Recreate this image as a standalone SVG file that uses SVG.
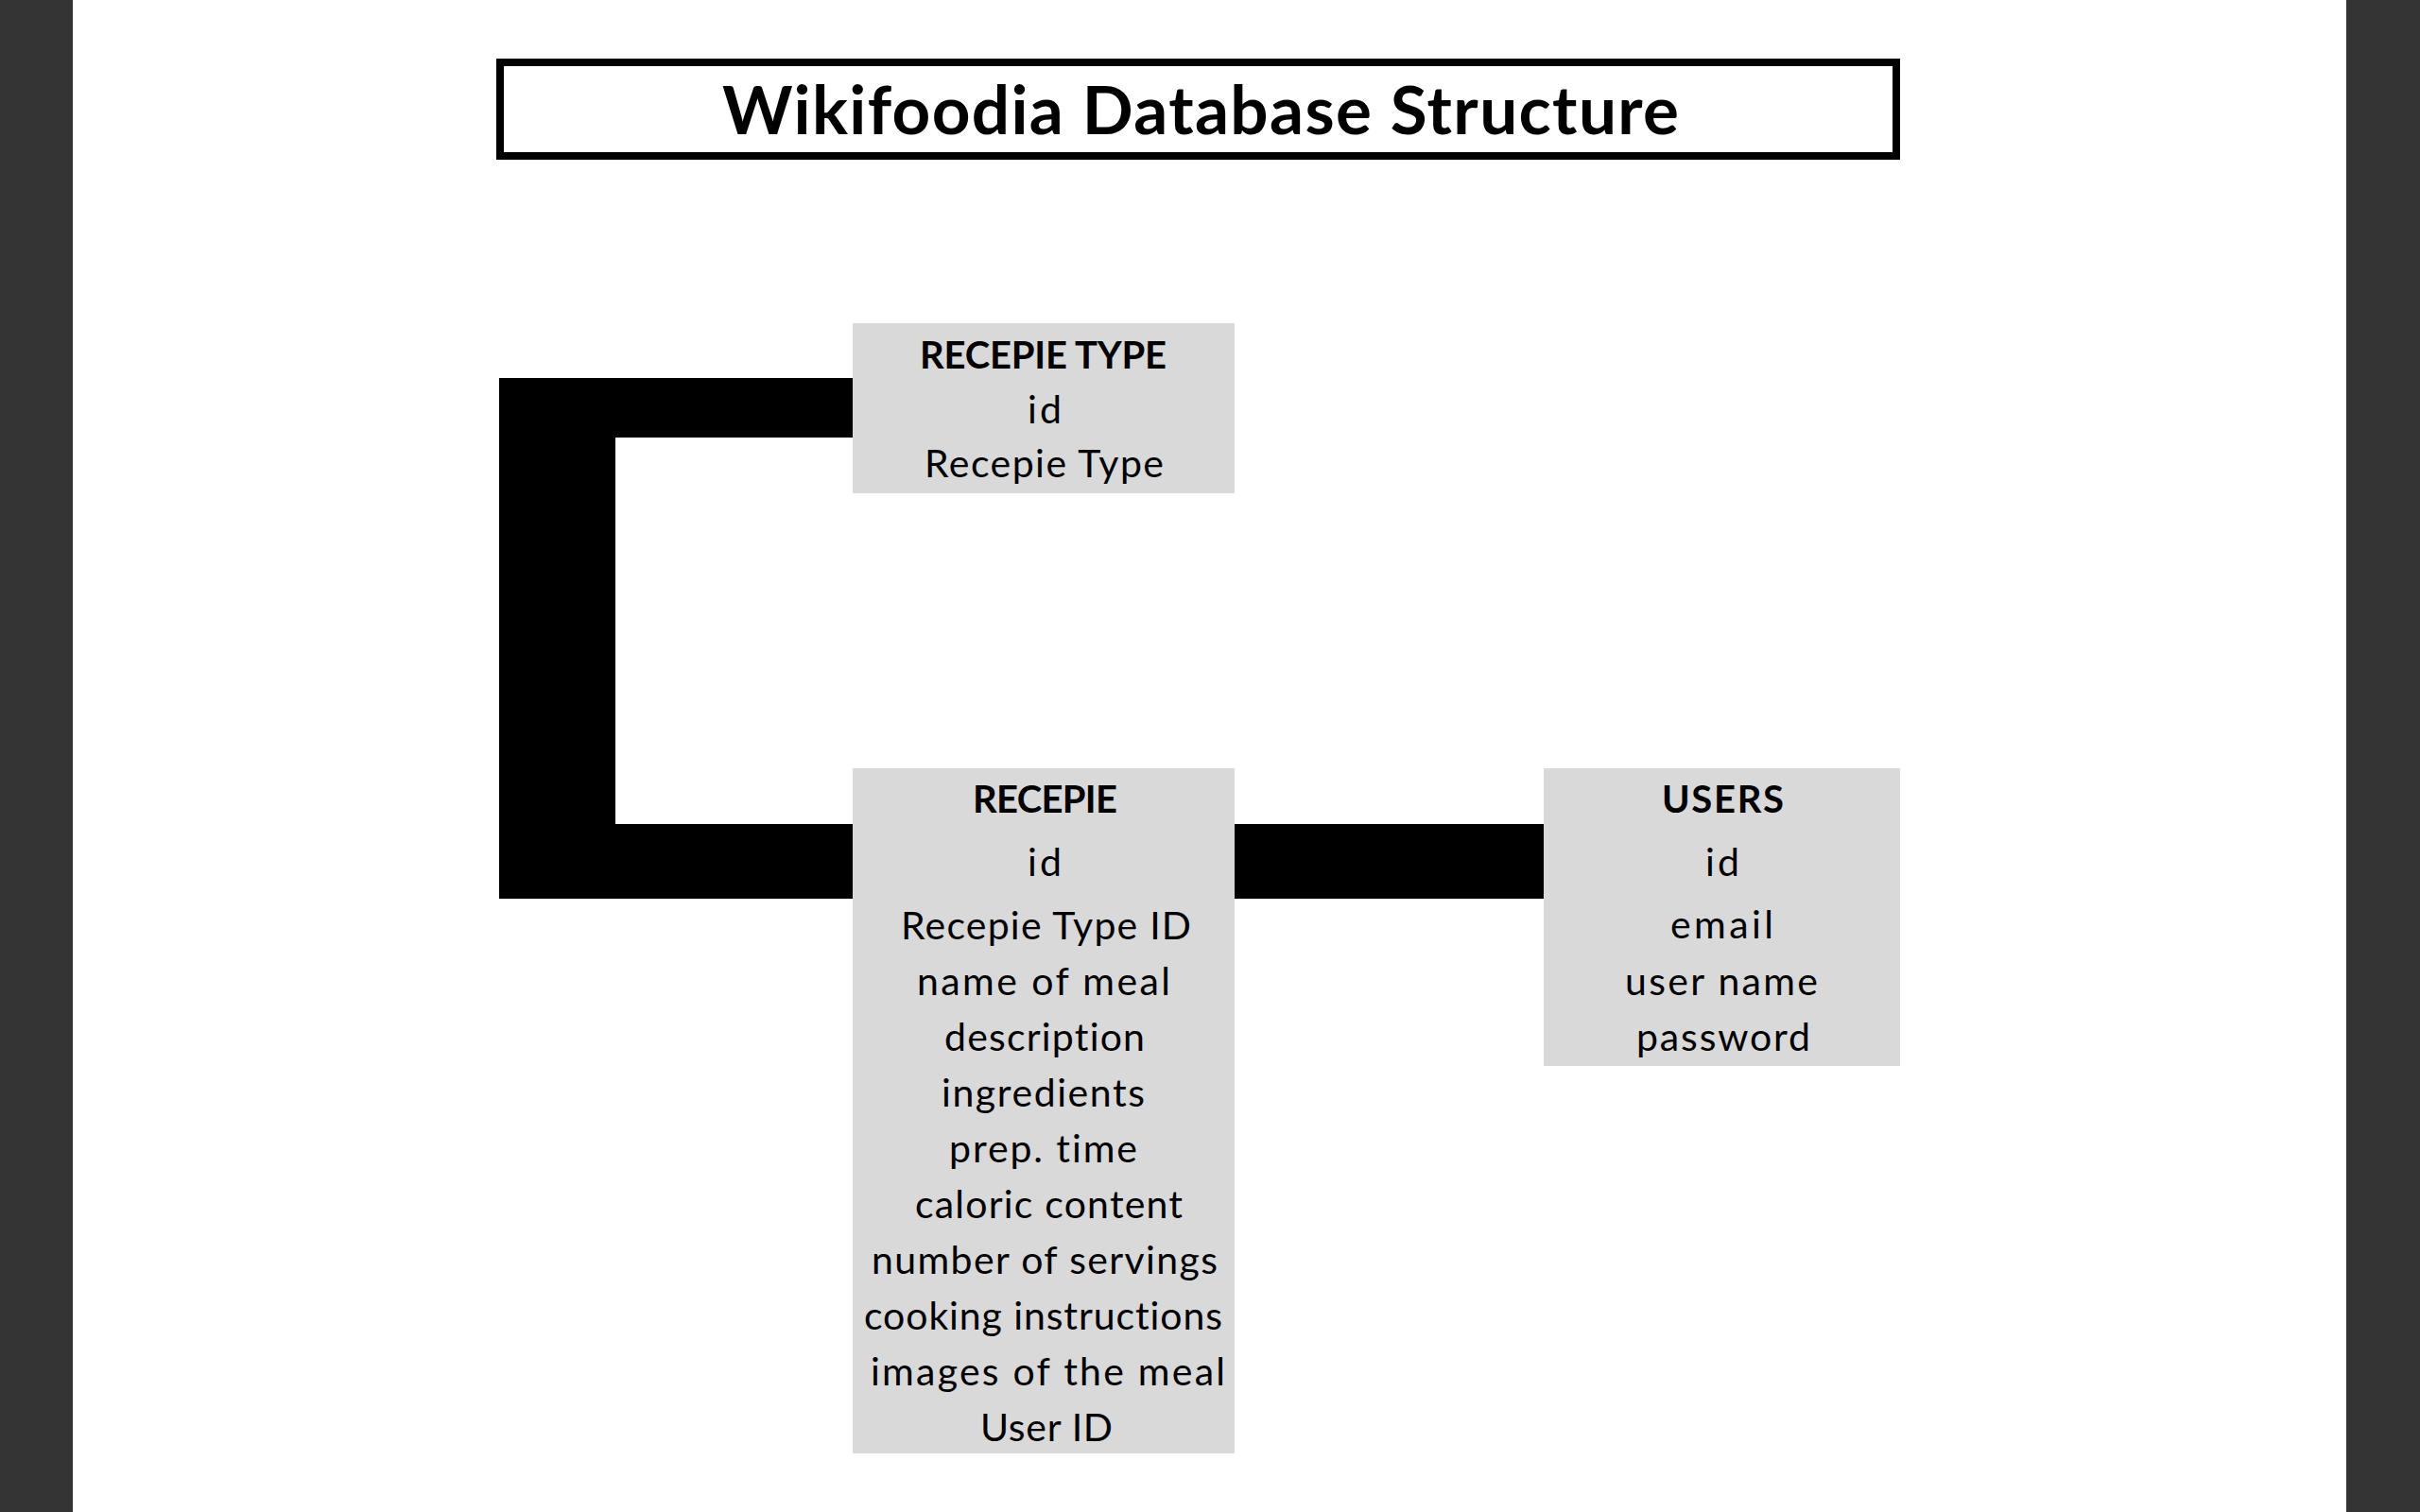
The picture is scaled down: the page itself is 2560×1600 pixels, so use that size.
<svg xmlns="http://www.w3.org/2000/svg" width="2560" height="1600" viewBox="0 0 2560 1600">
<style>
text{font-variant-ligatures:none;font-feature-settings:"liga" 0,"clig" 0}
.side{fill:#333333}
.box{fill:#d9d9d9}
.conn{fill:#000000}
.t{font-family:Lato,"Liberation Sans",sans-serif;font-size:41px;fill:#000;text-anchor:start}
.h{font-family:Lato,"Liberation Sans",sans-serif;font-size:40px;font-weight:bold;fill:#000;text-anchor:start}
.title{font-family:Lato,"Liberation Sans",sans-serif;font-size:71px;font-weight:bold;fill:#000}
</style>
<rect x="0" y="0" width="2560" height="1600" fill="#ffffff"/>
<rect class="side" x="0" y="0" width="77" height="1600"/>
<rect class="side" x="2482" y="0" width="78" height="1600"/>
<g id="title">
<rect x="529" y="66" width="1477" height="99" fill="#ffffff" stroke="#000" stroke-width="8"/>
<text class="title" x="764" y="142" textLength="1012">Wikifoodia Database Structure</text>
</g>
<g id="connectors">
<path class="conn" d="M902,400 H528 V951 H902 V872 H651 V463 H902 Z"/>
<rect class="conn" x="1303" y="872" width="330" height="79"/>
</g>
<g id="recepie-type">
<rect class="box" x="902" y="342" width="404" height="180"/>
<text class="h" x="973" y="390" textLength="261">RECEPIE TYPE</text>
<text class="t" x="1087" y="448" textLength="36">id</text>
<text class="t" x="978" y="505" textLength="253">Recepie Type</text>
</g>
<g id="recepie">
<rect class="box" x="902" y="813" width="404" height="725"/>
<text class="h" x="1029" y="860" textLength="153">RECEPIE</text>
<text class="t" x="1087" y="927" textLength="36">id</text>
<text class="t" x="953" y="994" textLength="307">Recepie Type ID</text>
<text class="t" x="970" y="1053" textLength="268">name of meal</text>
<text class="t" x="999" y="1112" textLength="212">description</text>
<text class="t" x="996" y="1171" textLength="215">ingredients</text>
<text class="t" x="1004" y="1230" textLength="199">prep. time</text>
<text class="t" x="968" y="1289" textLength="283">caloric content</text>
<text class="t" x="922" y="1348" textLength="366">number of servings</text>
<text class="t" x="914" y="1407" textLength="379">cooking instructions</text>
<text class="t" x="921" y="1466" textLength="375">images of the meal</text>
<text class="t" x="1037" y="1525" textLength="140">User ID</text>
</g>
<g id="users">
<rect class="box" x="1633" y="813" width="377" height="315"/>
<text class="h" x="1758" y="860" textLength="129">USERS</text>
<text class="t" x="1804" y="927" textLength="36">id</text>
<text class="t" x="1767" y="993" textLength="109">email</text>
<text class="t" x="1719" y="1053" textLength="204">user name</text>
<text class="t" x="1731" y="1112" textLength="184">password</text>
</g>
</svg>
